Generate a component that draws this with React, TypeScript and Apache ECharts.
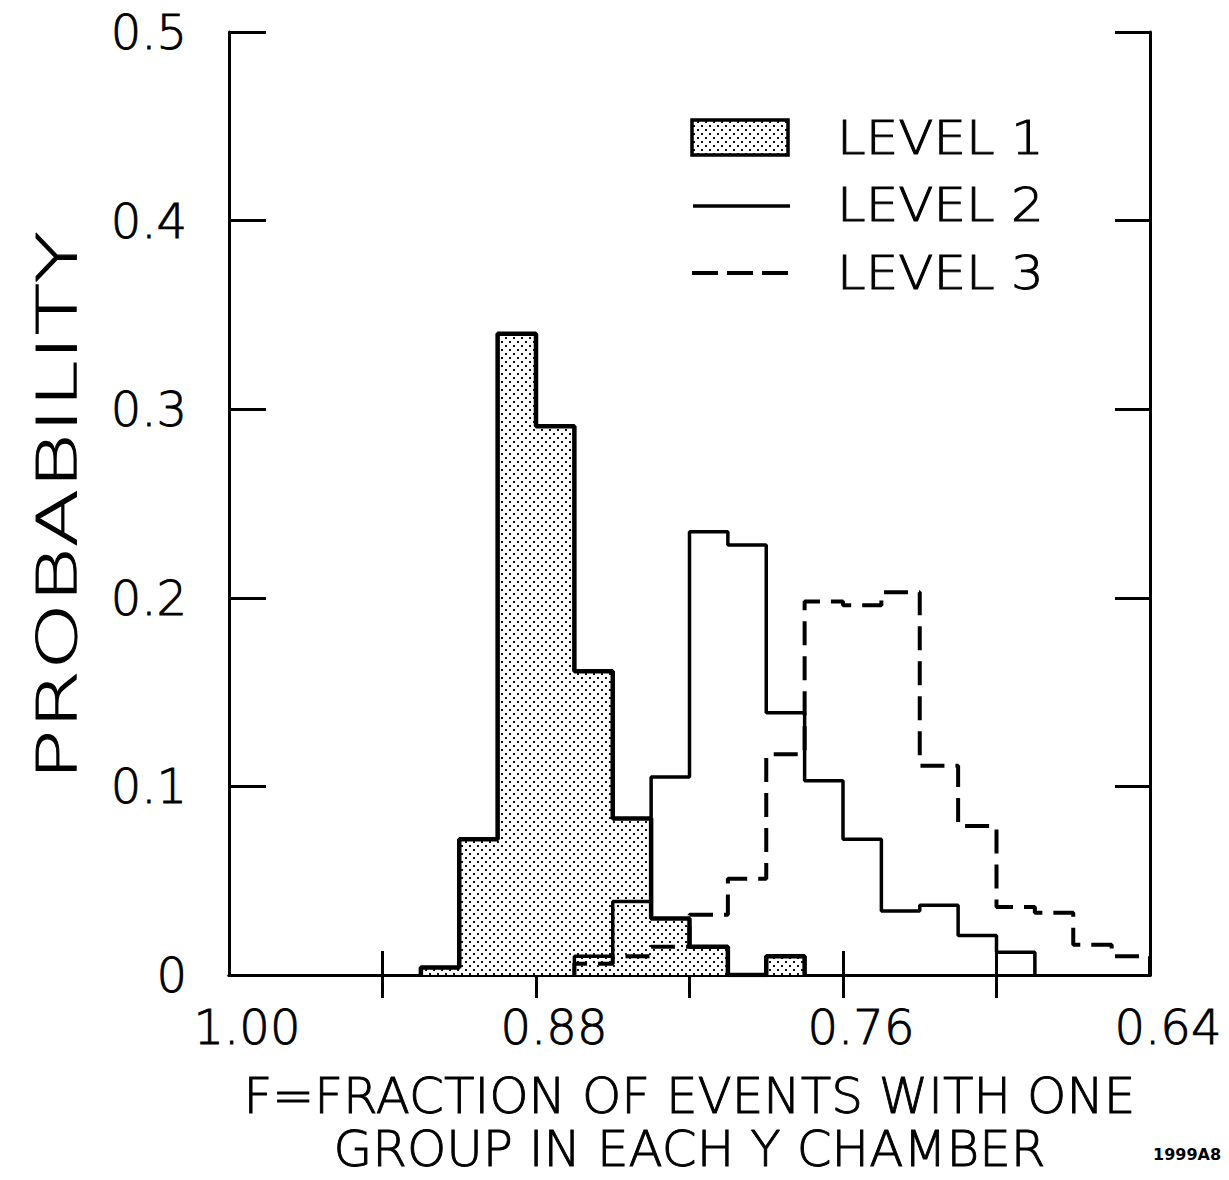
import React, { useEffect, useRef } from 'react';
import * as echarts from 'echarts';

// Bin edges (fraction F)
const binEdges = [0.925, 0.910, 0.895, 0.880, 0.865, 0.850, 0.835, 0.820, 0.805, 0.790, 0.775, 0.760, 0.745, 0.730, 0.715, 0.700, 0.685, 0.670, 0.655, 0.640];
// Probabilities per bin
const level1 = [0.004, 0.072, 0.340, 0.291, 0.161, 0.083, 0.030, 0.015, 0, 0.010, 0, 0, 0, 0, 0, 0, 0, 0, 0];
const level2 = [0, 0, 0, 0, 0.010, 0.039, 0.105, 0.235, 0.228, 0.139, 0.103, 0.072, 0.034, 0.037, 0.021, 0.012, 0, 0, 0];
const level3 = [0, 0, 0, 0, 0.006, 0.010, 0.015, 0.032, 0.051, 0.117, 0.198, 0.196, 0.203, 0.111, 0.079, 0.036, 0.033, 0.016, 0.010];

const xTickValues = [0.94, 0.88, 0.82, 0.76, 0.70];
const xLabelValues = [1.00, 0.88, 0.76, 0.64];
const yLabels = ['0', '0.1', '0.2', '0.3', '0.4', '0.5'];
const legendLabels = ['LEVEL 1', 'LEVEL 2', 'LEVEL 3'];
const xTitle = 'F=FRACTION OF EVENTS WITH ONE\nGROUP IN EACH Y CHAMBER';
const yTitle = 'PROBABILITY';
const figureCode = '1999A8';

const FONT = '"DejaVu Sans", "Liberation Sans", sans-serif';
const WEIGHT = 300;
const TB = 0.9; // extra stroke to thicken light glyphs

function stepPoints(vals: number[]): number[][] {
  let first = -1;
  let last = -1;
  vals.forEach((v, i) => {
    if (v > 0) {
      if (first < 0) first = i;
      last = i;
    }
  });
  const pts: number[][] = [[binEdges[first], 0]];
  for (let i = first; i <= last; i++) pts.push([binEdges[i], vals[i]]);
  pts.push([binEdges[last + 1], 0]);
  return pts;
}

function makeStipple() {
  const c = document.createElement('canvas');
  c.width = 8;
  c.height = 8;
  const ctx = c.getContext('2d')!;
  ctx.fillStyle = '#ffffff';
  ctx.fillRect(0, 0, 8, 8);
  ctx.fillStyle = '#111111';
  ctx.fillRect(1, 1, 2, 2);
  ctx.fillRect(5, 5, 2, 2);
  return { image: c.toDataURL(), repeat: 'repeat', imageWidth: 8, imageHeight: 8 };
}

export default function App() {
  const ref = useRef<HTMLDivElement>(null);

  useEffect(() => {
    if (!ref.current) return;
    const chart = echarts.init(ref.current, undefined, { renderer: 'svg' });
    const stipple: any = makeStipple();
    const stipple2: any = makeStipple();

    const axisLine = { show: true, lineStyle: { color: '#000', width: 3 } };
    const xBase: any = {
      type: 'value',
      min: 0.64,
      max: 1.0,
      inverse: true,
      splitLine: { show: false },
      axisLine,
    };
    const yBase: any = {
      type: 'value',
      min: 0,
      max: 0.5,
      interval: 0.1,
      splitLine: { show: false },
      axisLine,
    };

    const textFx = (extra: any) => ({
      type: 'text',
      z: 10,
      ...extra,
    });

    const legendText = (label: string, y: number) =>
      textFx({
        x: 837,
        y,
        scaleX: 1.12,
        style: {
          text: label,
          font: `normal ${WEIGHT} 46px ${FONT}`,
          fill: '#000',
          stroke: '#000',
          lineWidth: TB,
          align: 'left',
          verticalAlign: 'middle',
          textAlign: 'left',
          textVerticalAlign: 'middle',
        },
      });

    const option: any = {
      animation: false,
      backgroundColor: '#ffffff',
      grid: { left: 229, right: 79, top: 32, bottom: 203, containLabel: false },
      xAxis: [
        {
          ...xBase,
          position: 'bottom',
          name: xTitle,
          nameLocation: 'middle',
          nameGap: 94,
          nameTextStyle: {
            fontFamily: FONT,
            fontWeight: WEIGHT,
            fontSize: 50,
            color: '#000',
            lineHeight: 53,
            textBorderColor: '#000',
            textBorderWidth: TB,
          },
          axisTick: { show: true, inside: true, length: 24, lineStyle: { color: '#000', width: 3 }, customValues: xTickValues },
          axisLabel: {
            show: true,
            customValues: xLabelValues,
            formatter: (v: number) => v.toFixed(2),
            fontFamily: FONT,
            fontWeight: WEIGHT,
            fontSize: 48,
            color: '#000',
            textBorderColor: '#000',
            textBorderWidth: TB,
            margin: 28,
            padding: [0, 0, 0, 36],
          },
        },
        {
          ...xBase,
          position: 'top',
          axisTick: { show: true, inside: true, length: 23, lineStyle: { color: '#000', width: 3 }, customValues: xTickValues },
          axisLabel: { show: false },
        },
      ],
      yAxis: [
        {
          ...yBase,
          position: 'left',
          axisTick: { show: true, inside: true, length: 37, lineStyle: { color: '#000', width: 3 } },
          axisLabel: {
            show: true,
            formatter: (v: number) => yLabels[Math.round(v * 10)],
            fontFamily: FONT,
            fontWeight: WEIGHT,
            fontSize: 48,
            color: '#000',
            textBorderColor: '#000',
            textBorderWidth: TB,
            margin: 42,
          },
        },
        {
          ...yBase,
          position: 'right',
          axisTick: { show: true, inside: true, length: 35, lineStyle: { color: '#000', width: 3 } },
          axisLabel: { show: false },
        },
      ],
      series: [
        {
          name: legendLabels[0],
          type: 'line',
          step: 'end',
          xAxisIndex: 0,
          yAxisIndex: 0,
          symbol: 'none',
          data: stepPoints(level1),
          lineStyle: { color: '#000', width: 4.5 },
          areaStyle: { color: stipple, opacity: 1 },
          z: 2,
        },
        {
          name: legendLabels[1],
          type: 'line',
          step: 'end',
          xAxisIndex: 0,
          yAxisIndex: 0,
          symbol: 'none',
          data: stepPoints(level2),
          lineStyle: { color: '#000', width: 3.5 },
          z: 3,
        },
        {
          name: legendLabels[2],
          type: 'line',
          step: 'end',
          xAxisIndex: 0,
          yAxisIndex: 0,
          symbol: 'none',
          data: stepPoints(level3),
          lineStyle: { color: '#000', width: 4, type: [24, 11] },
          z: 4,
        },
      ],
      graphic: [
        {
          type: 'rect',
          shape: { x: 692, y: 120, width: 96, height: 35 },
          style: { fill: stipple2, stroke: '#000', lineWidth: 3.5 },
          z: 10,
        },
        {
          type: 'line',
          shape: { x1: 693, y1: 206, x2: 790, y2: 206 },
          style: { stroke: '#000', lineWidth: 3.5 },
          z: 10,
        },
        {
          type: 'line',
          shape: { x1: 692, y1: 273, x2: 790, y2: 273 },
          style: { stroke: '#000', lineWidth: 4, lineDash: [26, 9] },
          z: 10,
        },
        legendText(legendLabels[0], 138),
        legendText(legendLabels[1], 205),
        legendText(legendLabels[2], 273),
        textFx({
          x: 57,
          y: 506,
          rotation: Math.PI / 2,
          scaleX: 1.55,
          style: {
            text: yTitle,
            font: `normal ${WEIGHT} 55px ${FONT}`,
            fill: '#000',
            stroke: '#000',
            lineWidth: TB,
            align: 'center',
            verticalAlign: 'middle',
            textAlign: 'center',
            textVerticalAlign: 'middle',
          },
        }),
        textFx({
          x: 1153,
          y: 1154,
          style: {
            text: figureCode,
            font: `bold 16px ${FONT}`,
            fill: '#000',
            align: 'left',
            verticalAlign: 'middle',
            textAlign: 'left',
            textVerticalAlign: 'middle',
          },
        }),
      ],
    };

    chart.setOption(option);
    return () => chart.dispose();
  }, []);

  return (
    <div
      ref={ref}
      style={{ position: 'fixed', left: 0, top: 0, width: 1229, height: 1180, background: '#fff' }}
    />
  );
}
